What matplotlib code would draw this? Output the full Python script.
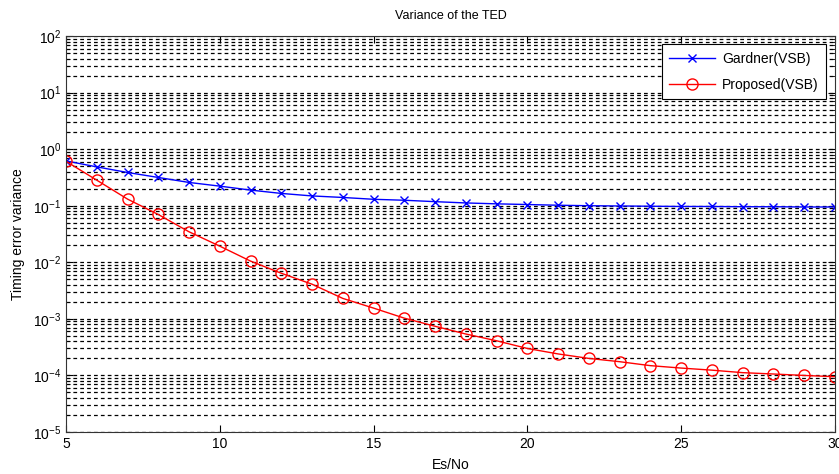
import matplotlib.pyplot as plt
from matplotlib.ticker import LogLocator, NullFormatter

plt.rcParams['font.family'] = ['Liberation Sans', 'DejaVu Sans']

# Es/No points and measured TED variances
es_no = list(range(5, 31))
gardner = [0.62, 0.486, 0.387, 0.316, 0.258, 0.222, 0.189, 0.165, 0.149, 0.140,
           0.130, 0.125, 0.118, 0.112, 0.108, 0.105, 0.102, 0.100, 0.099, 0.098,
           0.097, 0.097, 0.096, 0.096, 0.095, 0.095]
proposed = [0.61, 0.283, 0.131, 0.070, 0.0346, 0.0193, 0.0105, 0.0064, 0.0041, 0.0023,
            0.00155, 0.00103, 0.00074, 0.00054, 0.00041, 0.00030, 0.00024, 0.00020,
            0.000175, 0.000149, 0.000135, 0.000124, 0.000112, 0.000106, 0.000100, 0.000095]

fig = plt.figure(figsize=(8.39, 4.74), dpi=100)
ax = fig.add_axes([0.0787, 0.0886, 0.9163, 0.8354])

ax.semilogy(es_no, gardner, color='blue', marker='x', ms=6, mew=1, lw=1,
            label='Gardner(VSB)')
ax.semilogy(es_no, proposed, color='red', marker='o', ms=8, mfc='none', mew=1, lw=1,
            label='Proposed(VSB)')

ax.set_xlim(5, 30)
ax.set_ylim(1e-5, 1e2)
ax.set_xticks([5, 10, 15, 20, 25, 30])
ax.yaxis.set_major_locator(LogLocator(base=10, numticks=10))
ax.yaxis.set_minor_locator(LogLocator(base=10, subs=range(2, 10), numticks=20))
ax.yaxis.set_minor_formatter(NullFormatter())

# horizontal dashed grid only, like a MATLAB log plot
ax.grid(True, which='both', axis='y', color='black', linestyle=(0, (3, 2.5)), lw=0.9)
ax.set_axisbelow(True)

ax.tick_params(which='both', direction='in', top=True, right=True, labelsize=10)
ax.tick_params(which='major', length=5)
ax.tick_params(which='minor', length=3)
for s in ax.spines.values():
    s.set_color('#333333')

ax.set_title('Variance of the TED', fontsize=9, pad=12)
ax.set_xlabel('Es/No', fontsize=10, labelpad=5)
ax.set_ylabel('Timing error variance', fontsize=10, labelpad=6)

leg = ax.legend(loc='upper right', fontsize=10, fancybox=False, edgecolor='black',
                framealpha=1, borderaxespad=0.6, handlelength=3.3,
                labelspacing=0.85, borderpad=0.55, handletextpad=0.5)
leg.get_frame().set_linewidth(0.8)

fig.savefig('out.png', dpi=100)
